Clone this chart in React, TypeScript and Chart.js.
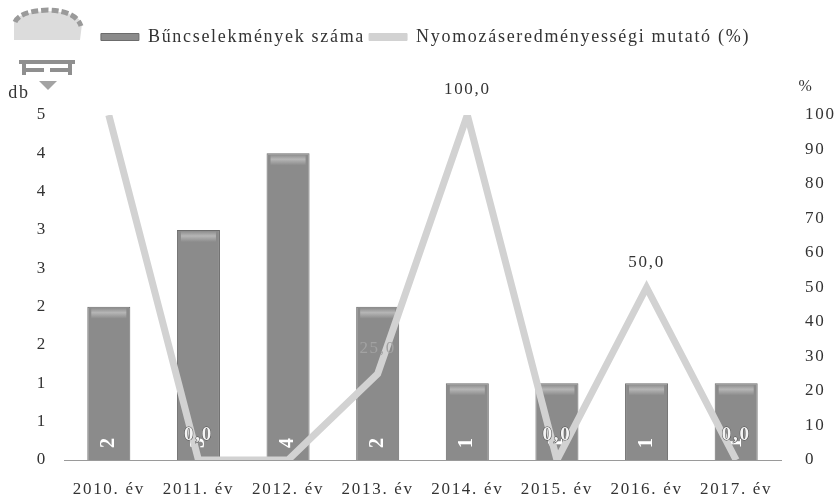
import React, { useEffect, useRef } from "react";
import { Chart, registerables } from "chart.js";

Chart.register(...registerables);

const categories = ["2010. év", "2011. év", "2012. év", "2013. év", "2014. év", "2015. év", "2016. év", "2017. év"];
const crimeCounts = [2, 3, 4, 2, 1, 1, 1, 1];
const clearanceRates = [100, 0, 0, 25, 100, 0, 50, 0];
const barSeriesName = "Bűncselekmények száma";
const lineSeriesName = "Nyomozáseredményességi mutató (%)";
const leftAxisTitle = "db";
const rightAxisTitle = "%";
const shownRateLabels = [false, true, false, true, true, true, true, true];

const FONT = '"Liberation Serif", serif';
const INK = "#333333";
const BAR = "#8b8b8b";
const BAR_EDGE = "#6c6c6c";
const LINE = "#d2d2d2";
const SPACING = "1.7px";

const fmt = (v: number) => v.toFixed(1).replace(".", ",");

const labelsPlugin = {
  id: "labels",
  afterInit(chart: any) {
    const legend = chart.legend;
    const fit = legend.fit;
    legend.fit = function () {
      fit.call(this);
      this.height = 91;
    };
  },
  beforeLayout(chart: any) {
    chart.ctx.letterSpacing = SPACING;
  },
  beforeDraw(chart: any) {
    chart.ctx.letterSpacing = SPACING;
  },
  afterDatasetDraw(chart: any, args: any) {
    const { ctx, chartArea } = chart;
    if (args.index !== 1) return;
    ctx.save();
    chart.getDatasetMeta(1).data.forEach((b: any, i: number) => {
      // pale band just under the top edge of each bar
      const g = ctx.createLinearGradient(0, b.y + 1, 0, b.y + 12);
      g.addColorStop(0, "rgba(205,205,205,0)");
      g.addColorStop(0.45, "rgba(205,205,205,.65)");
      g.addColorStop(1, "rgba(205,205,205,0)");
      ctx.fillStyle = g;
      ctx.fillRect(b.x - b.width / 2 + 4, b.y + 1, b.width - 8, 11);
      ctx.save();
      ctx.translate(b.x, chartArea.bottom - 17);
      ctx.rotate(-Math.PI / 2);
      ctx.letterSpacing = "0px";
      ctx.fillStyle = "#fff";
      ctx.font = `bold 20px ${FONT}`;
      ctx.textAlign = "center";
      ctx.textBaseline = "middle";
      ctx.fillText(String(crimeCounts[i]), 0, 0);
      ctx.restore();
    });
    ctx.restore();
  },
  afterDatasetsDraw(chart: any) {
    const { ctx, chartArea } = chart;
    const y1 = chart.scales.y1;
    const x = chart.scales.x;
    ctx.save();
    ctx.textAlign = "center";
    ctx.textBaseline = "middle";
    clearanceRates.forEach((v, i) => {
      if (!shownRateLabels[i]) return;
      const px = x.getPixelForValue(i);
      const py = y1.getPixelForValue(v) - 25;
      const text = fmt(v);
      ctx.font = `17px ${FONT}`;
      if (v === 0) {
        ctx.font = `bold 19px ${FONT}`;
        ctx.lineWidth = 1;
        ctx.strokeStyle = "#4a4a4a";
        ctx.strokeText(text, px, py);
        ctx.fillStyle = "#f4f4f4";
      } else if (v < 30) {
        ctx.fillStyle = "#a2a2a2";
      } else {
        ctx.fillStyle = INK;
      }
      ctx.fillText(text, px, py);
    });
    ctx.fillStyle = INK;
    ctx.font = `18px ${FONT}`;
    ctx.fillText(leftAxisTitle, 19, chartArea.top - 22);
    ctx.font = `16px ${FONT}`;
    ctx.fillText(rightAxisTitle, 806, chartArea.top - 28);
    ctx.restore();
  },
};

function Emblem() {
  return (
    <svg width="100" height="100" style={{ position: "absolute", left: 0, top: 0 }} aria-hidden="true">
      <path d="M14 22 Q18 12 48 11 Q78 12 82 24 L80 40 L14 40 Z" fill="#dcdcdc" />
      <path d="M15 22 Q20 11 48 10 Q76 11 81 26" fill="none" stroke="#9a9a9a" strokeWidth="5" strokeDasharray="7 3" />
      <path d="M19 62 H75 M24 62 V75 M70 62 V75 M24 70 H44 M50 70 H70" fill="none" stroke="#8f8f8f" strokeWidth="4" />
      <path d="M39 81 L57 81 L48 90 Z" fill="#a3a3a3" />
    </svg>
  );
}

export default function App() {
  const ref = useRef<HTMLCanvasElement>(null);
  useEffect(() => {
    const chart = new Chart(ref.current as HTMLCanvasElement, {
      type: "bar",
      data: {
        labels: categories,
        datasets: [
          {
            type: "line",
            label: lineSeriesName,
            data: clearanceRates,
            yAxisID: "y1",
            borderColor: LINE,
            backgroundColor: LINE,
            borderWidth: 7,
            pointRadius: 0,
            tension: 0,
            clip: 0,
            order: 1,
          },
          {
            type: "bar",
            label: barSeriesName,
            data: crimeCounts,
            yAxisID: "y",
            backgroundColor: BAR,
            borderColor: BAR_EDGE,
            borderWidth: 1,
            barPercentage: 0.48,
            categoryPercentage: 1,
            order: 2,
          },
        ],
      } as any,
      plugins: [labelsPlugin as any],
      options: {
        responsive: false,
        animation: false,
        layout: { padding: { top: 24, left: 14, right: 0, bottom: 0 } },
        plugins: {
          tooltip: { enabled: false },
          legend: {
            position: "top",
            labels: {
              color: INK,
              font: { family: FONT, size: 18 },
              boxWidth: 38,
              boxHeight: 7,
              padding: 4,
              generateLabels: () => [
                { text: barSeriesName, fillStyle: BAR, strokeStyle: BAR_EDGE, lineWidth: 1, fontColor: INK },
                { text: lineSeriesName, fillStyle: LINE, strokeStyle: LINE, lineWidth: 1, fontColor: INK },
              ],
            },
          },
        },
        scales: {
          x: {
            grid: { display: false, drawTicks: false },
            border: { color: "#9a9a9a", dash: [14, 6] },
            ticks: { color: INK, font: { family: FONT, size: 17 }, padding: 19, maxRotation: 0, autoSkip: false },
            afterFit: (s: any) => { s.height = 35; },
          },
          y: {
            position: "left",
            min: 0,
            max: 4.5,
            grid: { display: false, drawTicks: false },
            border: { display: false },
            ticks: {
              stepSize: 0.5,
              color: INK,
              font: { family: FONT, size: 17 },
              padding: 17,
              callback: (v: any) => String(Math.round(Number(v) + 1e-9)),
            },
            afterFit: (s: any) => { s.width = 50; },
          },
          y1: {
            position: "right",
            min: 0,
            max: 100,
            grid: { display: false, drawTicks: false },
            border: { display: false },
            ticks: { stepSize: 10, color: INK, font: { family: FONT, size: 17 }, padding: 24 },
            afterFit: (s: any) => { s.width = 56; },
          },
        },
      },
    } as any);
    return () => chart.destroy();
  }, []);
  return (
    <div style={{ position: "fixed", left: 0, top: 0, width: 837, height: 495, background: "#fff" }}>
      <canvas ref={ref} width={837} height={495} style={{ display: "block" }} />
      <Emblem />
    </div>
  );
}
